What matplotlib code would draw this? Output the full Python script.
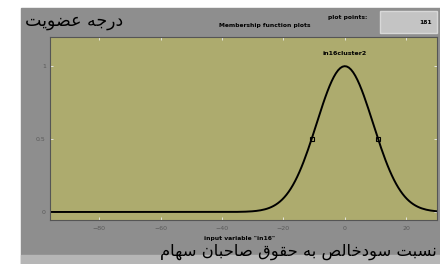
import numpy as np
import matplotlib.pyplot as plt
from matplotlib.patches import Rectangle

# membership function (gaussmf) as shown in the fuzzy toolbox window
mf_name = 'in16cluster2'
mf_sigma = 9.2
mf_center = 0.0
x_range = (-96.0, 30.0)
n_points = 181
xticks = [-80, -60, -40, -20, 0, 20]
yticks = [0, 0.5, 1]
ytick_labels = ['0', '0.5', '1']

# persian labels, letters in presentation forms (logical order per word)
ylabel_words = ['\ufea9\ufead\ufe9f\ufeea', '\ufecb\ufec0\ufeee\ufef3\ufe96']
xlabel_words = ['\ufee7\ufeb4\ufe92\ufe96',
                '\ufeb3\ufeee\ufea9\ufea7\ufe8e\ufedf\ufeba',
                '\ufe91\ufeea',
                '\ufea3\ufed8\ufeee\ufed5',
                '\ufebb\ufe8e\ufea3\ufe92\ufe8e\ufee5',
                '\ufeb3\ufeec\ufe8e\ufee1']


def visual(words):
    # right-to-left -> left-to-right drawing order
    return ' '.join(w[::-1] for w in reversed(words))


x = np.linspace(x_range[0], x_range[1], n_points)
y = np.exp(-(x - mf_center) ** 2 / (2 * mf_sigma ** 2))
x_half = [mf_center - mf_sigma * np.sqrt(2 * np.log(2)),
          mf_center + mf_sigma * np.sqrt(2 * np.log(2))]

fig = plt.figure(figsize=(4.4, 2.64), dpi=100)
fig.patch.set_facecolor('white')

# window panel
fig.add_artist(Rectangle((21 / 440, 0), 1, (264 - 8) / 264,
                         transform=fig.transFigure, color='#8e8e8e', zorder=0))
fig.add_artist(Rectangle((21 / 440, 0), 1, 9 / 264,
                         transform=fig.transFigure, color='#b6b6b6', zorder=0))
# plot points box
fig.add_artist(Rectangle((380 / 440, (264 - 33) / 264), 57 / 440, 22 / 264,
                         transform=fig.transFigure, facecolor='#c4c4c4',
                         edgecolor='#d8d8d8', lw=1, zorder=1))

ax = fig.add_axes([50 / 440, 44 / 264, 387 / 440, 183 / 264])
ax.set_facecolor('#adab6e')
ax.plot(x, y, color='black', lw=1.4)
ax.plot(x_half, [0.5, 0.5], ls='none', marker='s', ms=3.5,
        mfc='none', mec='black', mew=0.8)
ax.text(mf_center, 1.07, mf_name, ha='center', va='bottom',
        fontsize=4.5, fontweight='bold')

ax.set_xlim(x_range)
ax.set_ylim(-0.055, 1.2)
ax.set_xticks(xticks)
ax.set_yticks(yticks)
ax.set_yticklabels(ytick_labels)
ax.tick_params(labelsize=4.5, labelcolor='#5a5a5a', length=2, width=0.6,
               color='#eeeeee', direction='in', top=True, right=True)
ax.tick_params(axis='x', pad=4)
ax.tick_params(axis='y', pad=3)
for s in ax.spines.values():
    s.set_color('#555555')
    s.set_linewidth(0.8)

fig.text(265 / 440, 1 - 25 / 264, 'Membership function plots', ha='center',
         va='center', fontsize=4.3, fontweight='bold')
fig.text(348 / 440, 1 - 17 / 264, 'plot points:', ha='center',
         va='center', fontsize=4.3, fontweight='bold')
fig.text(432 / 440, 1 - 23 / 264, str(n_points), ha='right',
         va='center', fontsize=4.3, fontweight='bold')
fig.text(240 / 440, 1 - 238.5 / 264, 'input variable "in16"', ha='center',
         va='center', fontsize=4.3, fontweight='bold')

fig.text(25 / 440, 1 - 21 / 264, visual(ylabel_words), ha='left',
         va='center', fontsize=12.5, family='DejaVu Sans')
fig.text(437 / 440, 1 - 251.5 / 264, visual(xlabel_words), ha='right',
         va='center', fontsize=11.8, family='DejaVu Sans')

fig.savefig('out.png', dpi=100)
